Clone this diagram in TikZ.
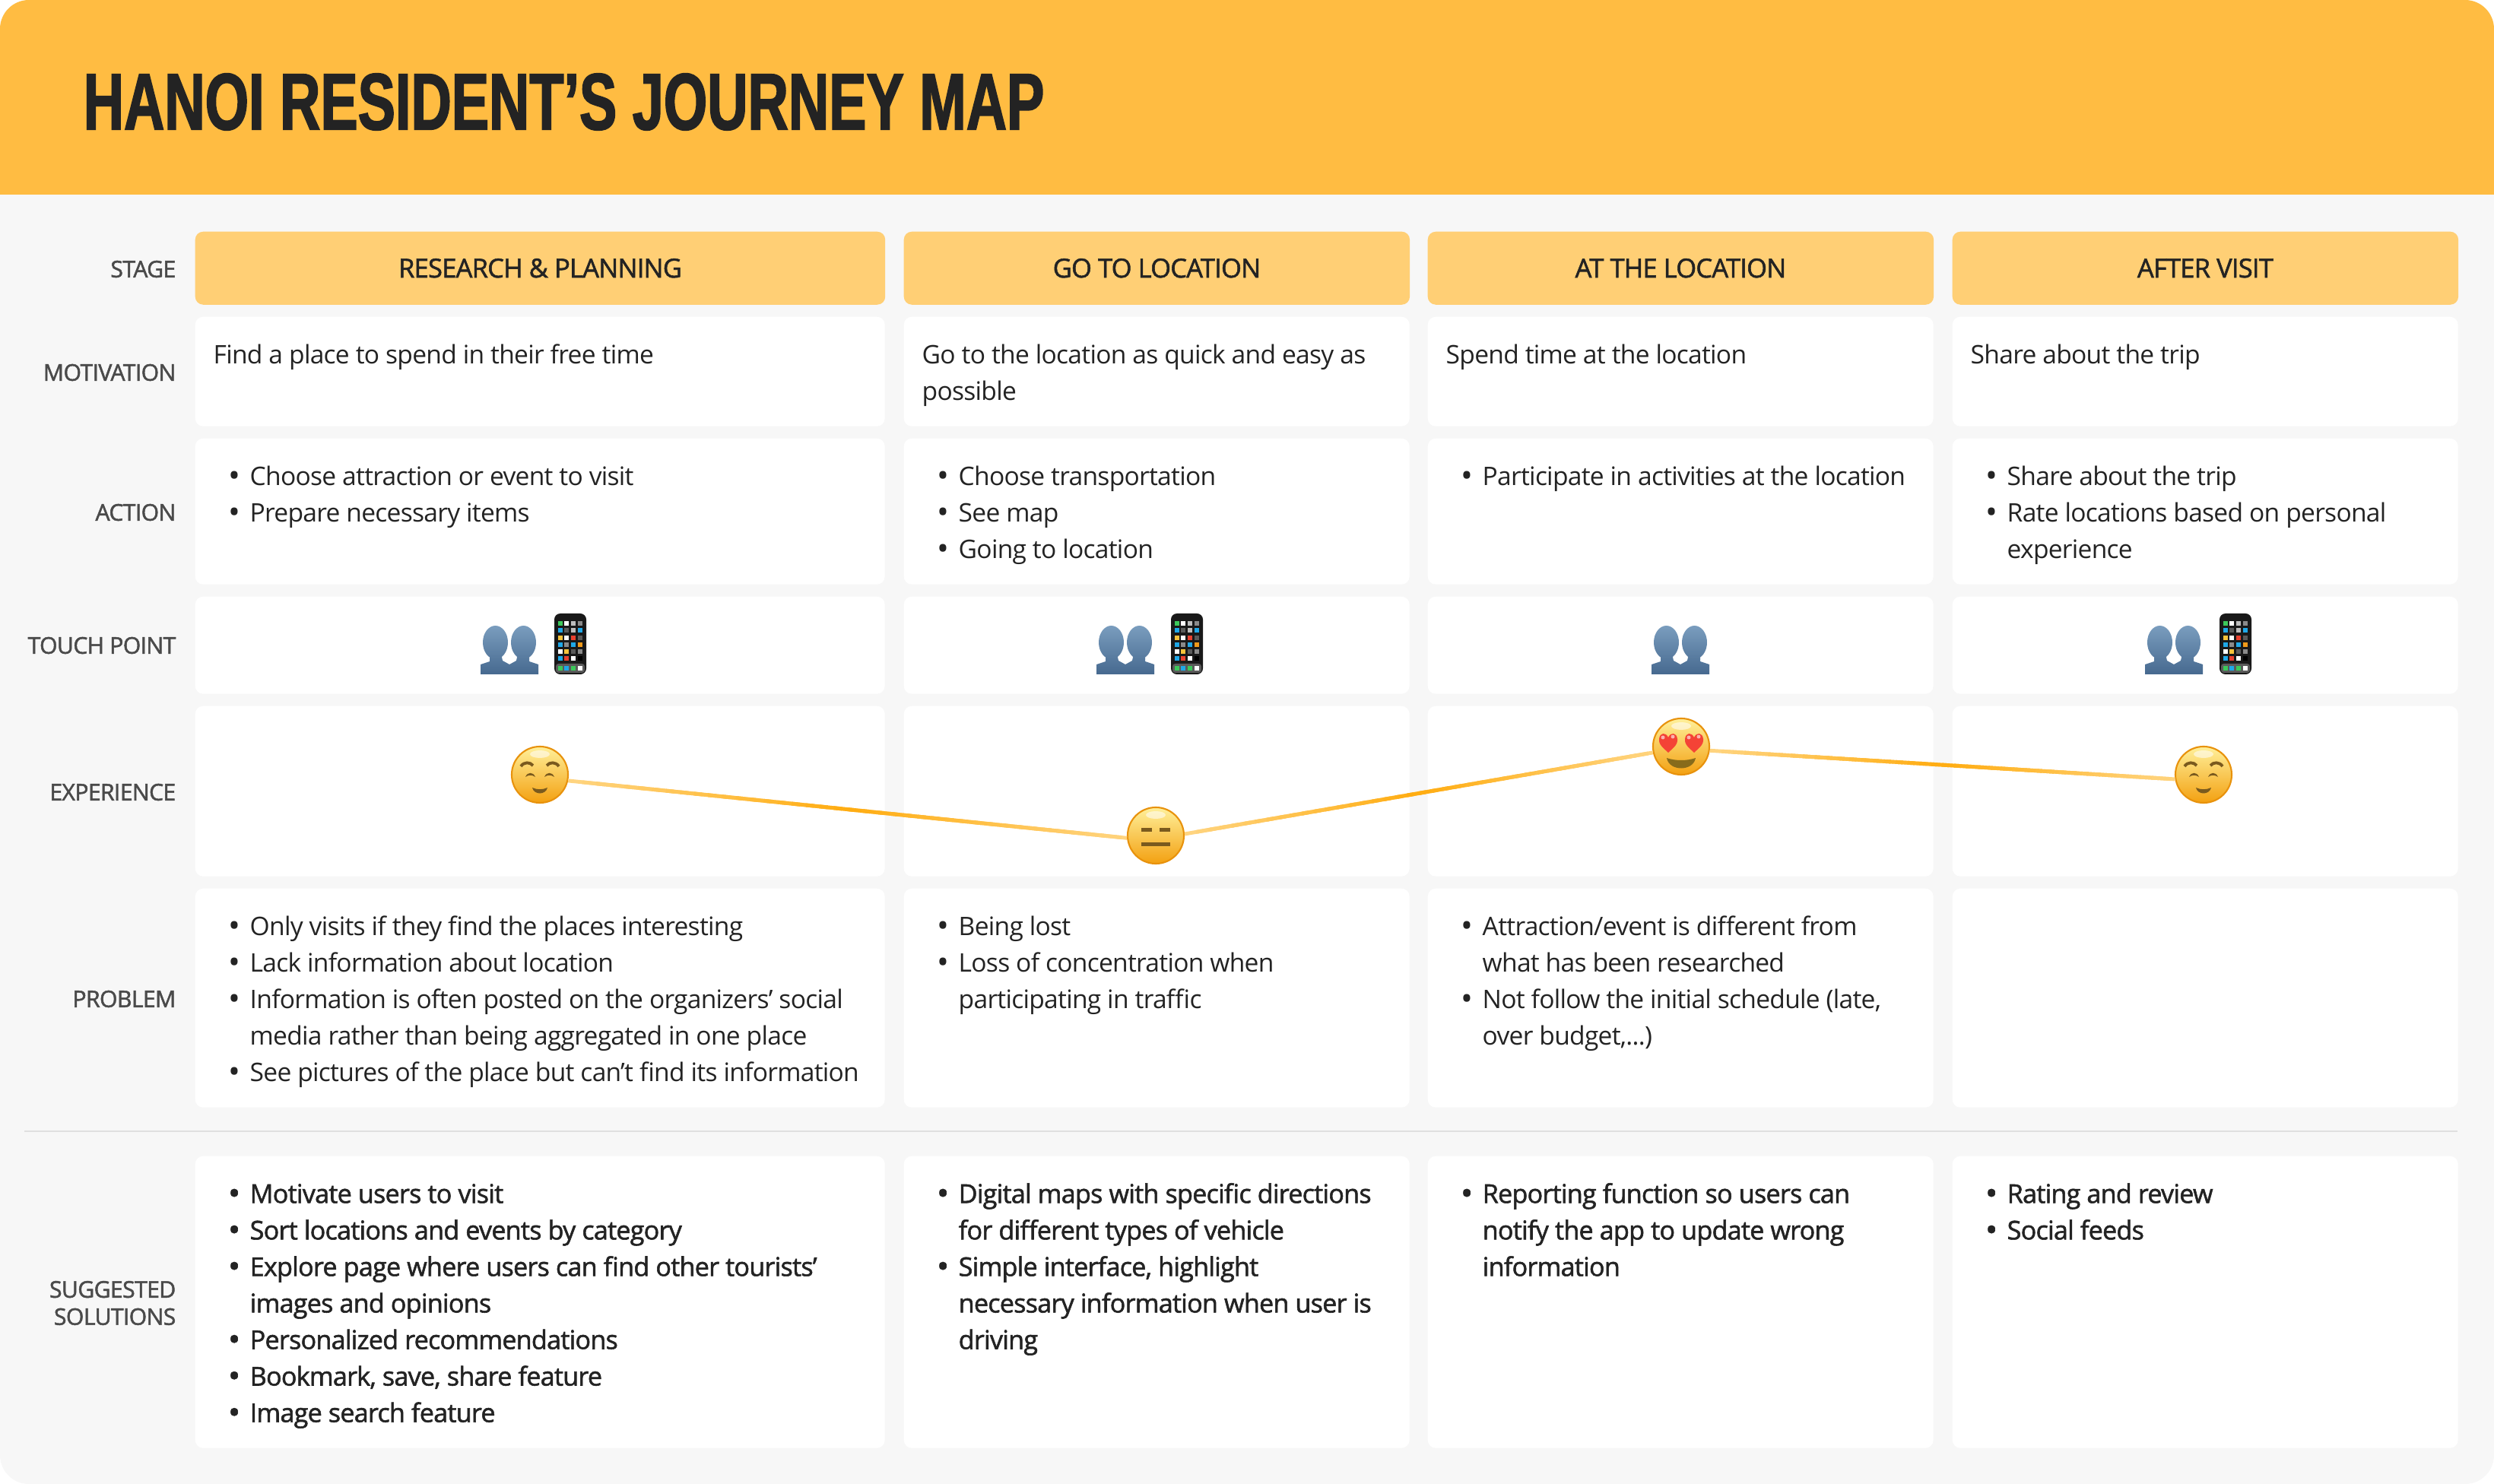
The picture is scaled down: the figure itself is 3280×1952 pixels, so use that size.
\documentclass[tikz,border=0pt]{standalone}
\usepackage{fontspec}
\setmainfont[LetterSpace=-2.2]{Open Sans}
\newfontfamily\medfont[FakeBold=1.6,LetterSpace=-2.2]{Open Sans}
\newfontfamily\titlefont[FakeStretch=0.7,FakeBold=1.6]{Liberation Sans Bold}
\usetikzlibrary{calc,positioning}

\definecolor{headorange}{HTML}{FFBC42}
\definecolor{stageorange}{HTML}{FFCF75}
\definecolor{pagegray}{HTML}{F7F7F7}
\definecolor{inkdark}{HTML}{232323}
\definecolor{labelgray}{HTML}{4A4A4A}
\definecolor{linelight}{HTML}{FFD47F}
\definecolor{linedark}{HTML}{FFAC10}
\definecolor{facebrown}{HTML}{7A5A1E}
\definecolor{faceedge}{HTML}{E8920C}
\definecolor{facetop}{HTML}{FFF09A}
\definecolor{facemid}{HTML}{FFD52B}
\definecolor{facelow}{HTML}{F3A011}
\definecolor{heartred}{HTML}{F44336}
\definecolor{peopletop}{HTML}{7A9DBE}
\definecolor{peoplelow}{HTML}{46698F}
\definecolor{appgreen}{HTML}{3CC85A}
\definecolor{appblue}{HTML}{1FA8E8}
\definecolor{appyellow}{HTML}{F8C33A}
\definecolor{appred}{HTML}{E8402E}
\definecolor{apporange}{HTML}{F09A1A}
\definecolor{appgray}{HTML}{8A8A8A}
\definecolor{appdark}{HTML}{5A5A5A}
\definecolor{applight}{HTML}{BDBDBD}

\newcommand{\bul}{\strut\llap{\raisebox{-0.6pt}{\fontsize{12}{12}\selectfont •}\hspace{3.6pt}}}
\newcommand{\facegloss}{\fill[white, opacity=0.55] (0,-27) ellipse [x radius=13, y radius=5];}
\newcommand{\gradline}[2]{%
  \draw[linelight, line width=1.4pt] (#1) -- (#2);
  \path (#1) -- (#2) coordinate[pos=0] (lineS) coordinate[pos=1] (lineE);
  \foreach \i in {1,...,38} {
    \pgfmathtruncatemacro{\mixval}{100*(1-abs(2*\i/39-1))}
    \draw[linedark!\mixval!linelight, line width=1.4pt] ($(lineS)!\i/40!(lineE)$) -- ($(lineS)!\i/40+0.04!(lineE)$);
  }
}

\tikzset{
  bodyfont/.style={font=\fontsize{9.55}{13.66}\selectfont},
  cell/.style={fill=white, rounded corners=3pt, anchor=north west, inner sep=0pt},
  stagecell/.style={fill=stageorange, rounded corners=3pt, anchor=north west, inner sep=0pt,
    font=\medfont\fontsize{9.8}{13.66}\selectfont, text=inkdark},
  rowlabel/.style={anchor=east, align=right, inner sep=0pt, text=labelgray,
    font=\medfont\fontsize{8.6}{10.2}\selectfont},
  celltext/.style={anchor=north west, align=left, inner sep=0pt, text=inkdark, bodyfont},
  soltext/.style={celltext, font=\medfont\fontsize{9.7}{13.66}\selectfont},
  facenode/.style={circle, minimum size=0.74cm, inner sep=0pt, draw=faceedge, line width=0.6pt,
    top color=facetop, middle color=facemid, bottom color=facelow},
  relaxedface/.pic={
    \facegloss
    \draw[facebrown, line width=1.1pt] (-25,-11) .. controls (-21,-17) and (-13,-17) .. (-9,-12);
    \draw[facebrown, line width=1.1pt] (9,-12) .. controls (13,-17) and (21,-17) .. (25,-11);
    \fill[facebrown] (-19,3) .. controls (-16,-4) and (-9,-4) .. (-6,3) .. controls (-10,0) and (-15,0) .. cycle;
    \fill[facebrown] (6,3) .. controls (9,-4) and (16,-4) .. (19,3) .. controls (15,0) and (10,0) .. cycle;
    \fill[facebrown] (-10,17) .. controls (-4,20) and (4,20) .. (10,17) .. controls (8,27) and (-8,27) .. cycle;
  },
  neutralface/.pic={
    \facegloss
    \fill[facebrown] (-19,-10) rectangle (-5,-5);
    \fill[facebrown] (5,-10) rectangle (19,-5);
    \fill[facebrown] (-19,9) rectangle (19,14);
  },
  loveface/.pic={
    \facegloss
    \foreach \hx in {-17,17} {
      \fill[heartred] (\hx,8) .. controls (\hx-5,3) and (\hx-13,-2) .. (\hx-12,-10)
        .. controls (\hx-11,-19) and (\hx-3,-19) .. (\hx,-12)
        .. controls (\hx+3,-19) and (\hx+11,-19) .. (\hx+12,-10)
        .. controls (\hx+13,-2) and (\hx+5,3) .. cycle;
      \fill[white, opacity=0.6] (\hx-7,-12) circle [radius=2.5];
      \fill[white, opacity=0.6] (\hx+6,-13) circle [radius=2.5];
    }
    \fill[facebrown!90!yellow] (-19,15) .. controls (-8,19) and (8,19) .. (19,15) .. controls (16,33) and (-16,33) .. cycle;
  },
  peopleicon/.pic={
    \shade[top color=peopletop, bottom color=peoplelow]
      (-18.5,-10) ellipse [x radius=16.5, y radius=22]
      (18.5,-10) ellipse [x radius=16.5, y radius=22]
      (-38,32) -- (-38,19) -- (-26,15) -- (-26,5) -- (-11,5) -- (-9,14) -- (0,19) -- (9,14) -- (11,5) -- (26,5) -- (26,15) -- (38,19) -- (38,32) -- cycle;
  },
  phoneicon/.pic={
    \fill[black!90, rounded corners=2.2pt] (-21,-40) rectangle (21,40);
    \foreach \cy/\ca/\cb/\cc/\cd in {-27/appgreen/white/applight/appgray, -18/appblue/appdark/applight/appblue,
      -8/appyellow/white/appred/appdark, 1/appblue/appgray/appblue/apporange,
      10/white/appyellow/appdark/appgray, 19/appblue/appred/white/black} {
      \fill[\ca] (-16,\cy-3) rectangle (-10,\cy+3);
      \fill[\cb] (-8,\cy-3) rectangle (-2,\cy+3);
      \fill[\cc] (1,\cy-3) rectangle (7,\cy+3);
      \fill[\cd] (10,\cy-3) rectangle (16,\cy+3);
    }
    \fill[appdark, rounded corners=1pt] (-19,26) rectangle (19,38);
    \fill[appgreen] (-16,29) rectangle (-10,35);
    \fill[appblue] (-8,29) rectangle (-2,35);
    \fill[appgreen] (1,29) rectangle (7,35);
    \fill[white] (10,29) rectangle (16,35);
  }
}

\begin{document}
\begin{tikzpicture}[x=0.01cm, y=-0.01cm]
  \useasboundingbox (0,0) rectangle (3280,1952);

  % Page and header band
  \fill[pagegray, rounded corners=10.8pt] (0,100) rectangle (3280,1952);
  \fill[headorange, rounded corners=10.8pt] (0,0) rectangle (3280,200);
  \fill[headorange] (0,100) rectangle (3280,256);
  \node[anchor=west, inner sep=0pt, text=inkdark, font=\titlefont\fontsize{30}{36}\selectfont] (title) at (109,134) {HANOI RESIDENT’S JOURNEY MAP};

  % Stage headers
  \node[stagecell, minimum width=9.07cm, minimum height=0.96cm] (stagea) at (256,304) {RESEARCH \& PLANNING};
  \node[stagecell, minimum width=6.65cm, minimum height=0.96cm] (stageb) at (1188,304) {GO TO LOCATION};
  \node[stagecell, minimum width=6.65cm, minimum height=0.96cm] (stagec) at (1877,304) {AT THE LOCATION};
  \node[stagecell, minimum width=6.65cm, minimum height=0.96cm] (staged) at (2567,304) {AFTER VISIT};

  % White cells, one per row and column
  \foreach \colname/\colx/\colw in {a/256/907, b/1188/665, c/1877/665, d/2567/665} {
    \foreach \rowname/\rowy/\rowh in {motiv/416/144, action/576/192, touch/784/128, exper/928/224, prob/1168/288, solut/1520/384} {
      \node[cell, minimum width=\colw*0.01cm, minimum height=\rowh*0.01cm] (\rowname\colname) at (\colx,\rowy) {};
    }
  }

  % Row labels
  \node[rowlabel] (lblstage) at (232,354) {STAGE};
  \node[rowlabel] (lblmotiv) at (232,490) {MOTIVATION};
  \node[rowlabel] (lblaction) at (232,674) {ACTION};
  \node[rowlabel] (lbltouch) at (232,849) {TOUCH POINT};
  \node[rowlabel] (lblexper) at (232,1042) {EXPERIENCE};
  \node[rowlabel] (lblprob) at (232,1314) {PROBLEM};
  \node[rowlabel] (lblsolut) at (232,1714) {SUGGESTED\\SOLUTIONS};

  % Divider
  \draw[black!12, line width=0.6pt] (32,1488) -- (3232,1488);

  % Motivation
  \node[celltext] (textmotiva) at ([shift={(24,28)}]motiva.north west) {\strut Find a place to spend in their free time};
  \node[celltext] (textmotivb) at ([shift={(24,28)}]motivb.north west) {\strut Go to the location as quick and easy as\\possible};
  \node[celltext] (textmotivc) at ([shift={(24,28)}]motivc.north west) {\strut Spend time at the location};
  \node[celltext] (textmotivd) at ([shift={(24,28)}]motivd.north west) {\strut Share about the trip};

  % Action
  \node[celltext] (textactiona) at ([shift={(72,28)}]actiona.north west) {\bul Choose attraction or event to visit\\\bul Prepare necessary items};
  \node[celltext] (textactionb) at ([shift={(72,28)}]actionb.north west) {\bul Choose transportation\\\bul See map\\\bul Going to location};
  \node[celltext] (textactionc) at ([shift={(72,28)}]actionc.north west) {\bul Participate in activities at the location};
  \node[celltext] (textactiond) at ([shift={(72,28)}]actiond.north west) {\bul Share about the trip\\\bul Rate locations based on personal\\experience};

  % Touch point icons
  \pic (peoplea) at (670,855) {peopleicon};
  \pic (phonea) at (750,847) {phoneicon};
  \pic (peopleb) at (1480,855) {peopleicon};
  \pic (phoneb) at (1561,847) {phoneicon};
  \pic (peoplec) at (2210,855) {peopleicon};
  \pic (peopled) at (2859,855) {peopleicon};
  \pic (phoned) at (2940,847) {phoneicon};

  % Experience curve
  \node[facenode] (facea) at (710,1019) {};
  \node[facenode] (faceb) at (1520,1099) {};
  \node[facenode] (facec) at (2211,982) {};
  \node[facenode] (faced) at (2898,1019) {};
  \gradline{facea.-12}{faceb.185}
  \gradline{faceb.3}{facec.192}
  \gradline{facec.-8}{faced.189}
  \pic (relaxeda) at (facea) {relaxedface};
  \pic (neutralb) at (faceb) {neutralface};
  \pic (lovec) at (facec) {loveface};
  \pic (relaxedd) at (faced) {relaxedface};

  % Problem
  \node[celltext] (textproba) at ([shift={(72,28)}]proba.north west) {\bul Only visits if they find the places interesting\\\bul Lack information about location\\\bul Information is often posted on the organizers’ social\\media rather than being aggregated in one place\\\bul See pictures of the place but can’t find its information};
  \node[celltext] (textprobb) at ([shift={(72,28)}]probb.north west) {\bul Being lost\\\bul Loss of concentration when\\participating in traffic};
  \node[celltext] (textprobc) at ([shift={(72,28)}]probc.north west) {\bul Attraction/event is different from\\what has been researched\\\bul Not follow the initial schedule (late,\\over budget,...)};

  % Suggested solutions
  \node[soltext] (textsoluta) at ([shift={(72,28)}]soluta.north west) {\bul Motivate users to visit\\\bul Sort locations and events by category\\\bul Explore page where users can find other tourists’\\images and opinions\\\bul Personalized recommendations\\\bul Bookmark, save, share feature\\\bul Image search feature};
  \node[soltext] (textsolutb) at ([shift={(72,28)}]solutb.north west) {\bul Digital maps with specific directions\\for different types of vehicle\\\bul Simple interface, highlight\\necessary information when user is\\driving};
  \node[soltext] (textsolutc) at ([shift={(72,28)}]solutc.north west) {\bul Reporting function so users can\\notify the app to update wrong\\information};
  \node[soltext] (textsolutd) at ([shift={(72,28)}]solutd.north west) {\bul Rating and review\\\bul Social feeds};
\end{tikzpicture}
\end{document}
